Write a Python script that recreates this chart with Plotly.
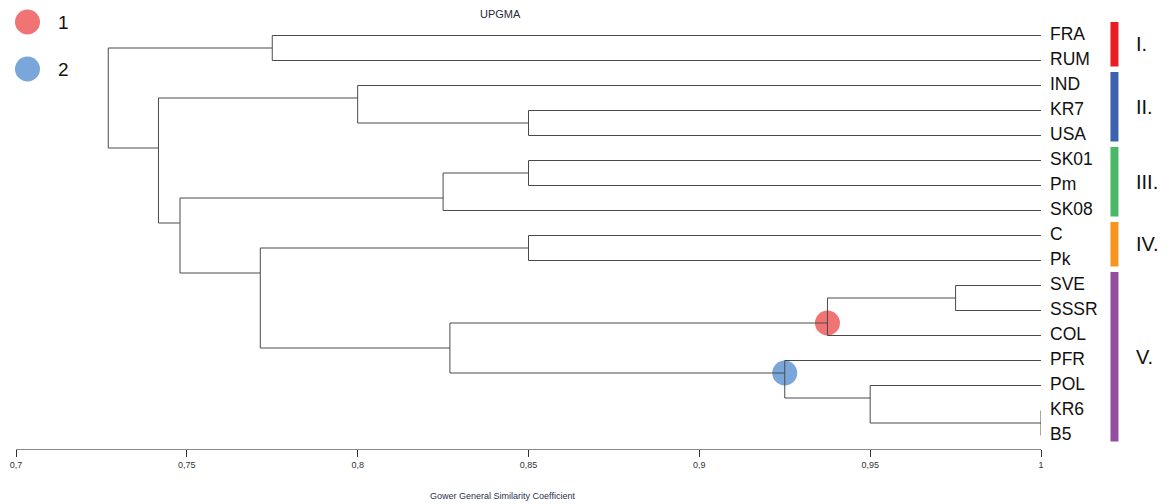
import plotly.graph_objects as go

# ---------------- data ----------------
leaves = ["FRA", "RUM", "IND", "KR7", "USA", "SK01", "Pm", "SK08", "C", "Pk",
          "SVE", "SSSR", "COL", "PFR", "POL", "KR6", "B5"]

# merges: (id, left child, right child, similarity)
merge_ids = ["m0", "m1", "m2", "m3", "m4", "m5", "m6", "m7",
             "m8", "m9", "m10", "m11", "m12", "m13", "m14", "m15"]
merge_left = ["FRA", "KR7", "IND", "SK01", "m3", "C", "SVE", "m6",
              "KR6", "POL", "PFR", "m7", "m5", "m4", "m2", "m0"]
merge_right = ["RUM", "USA", "m1", "Pm", "SK08", "Pk", "SSSR", "COL",
               "B5", "m8", "m9", "m10", "m11", "m12", "m13", "m14"]
merge_sim = [0.775, 0.85, 0.80, 0.85, 0.825, 0.85, 0.975, 0.9375,
             1.0, 0.95, 0.925, 0.827, 0.7715, 0.748, 0.7417, 0.727]

highlight_nodes = ["m7", "m10"]
highlight_names = ["1", "2"]
highlight_colors = ["#f07474", "#7ba6d9"]

group_names = ["I.", "II.", "III.", "IV.", "V."]
group_first = ["FRA", "IND", "SK01", "C", "SVE"]
group_last = ["RUM", "USA", "SK08", "Pk", "B5"]
group_colors = ["#ec1c24", "#3b62ae", "#4bb867", "#f6961f", "#934f9f"]

tick_vals = [0.7, 0.75, 0.8, 0.85, 0.9, 0.95, 1.0]
tick_text = ["0,7", "0,75", "0,8", "0,85", "0,9", "0,95", "1"]

title_text = "UPGMA"
axis_title = "Gower General Similarity Coefficient"

# ---------------- layout of the tree ----------------
info = {}
for i, name in enumerate(leaves):
    info[name] = dict(start=i, count=1, y=float(i), sim=1.0)

seg_x, seg_y = [], []
for mid, a, b, s in zip(merge_ids, merge_left, merge_right, merge_sim):
    A, B = info[a], info[b]
    y = A["start"] + A["count"] - 0.5
    info[mid] = dict(start=A["start"], count=A["count"] + B["count"], y=y, sim=s)
    # vertical
    seg_x += [s, s, None]
    seg_y += [A["y"], B["y"], None]
    # horizontals
    seg_x += [s, A["sim"], None]
    seg_y += [A["y"], A["y"], None]
    seg_x += [s, B["sim"], None]
    seg_y += [B["y"], B["y"], None]

FONT = "Liberation Sans, Arial, Helvetica, sans-serif"

fig = go.Figure()

# highlighted nodes (under the lines)
for node, nm, col in zip(highlight_nodes, highlight_names, highlight_colors):
    fig.add_trace(go.Scatter(
        x=[info[node]["sim"]], y=[info[node]["y"]], mode="markers",
        marker=dict(size=25, color=col, line=dict(width=0)),
        name=nm, showlegend=False, hoverinfo="skip", cliponaxis=False))

fig.add_trace(go.Scatter(
    x=seg_x, y=seg_y, mode="lines",
    line=dict(color="#4a4a4a", width=1),
    showlegend=False, hoverinfo="skip", cliponaxis=False))

# ---------------- geometry (pixels) ----------------
W, H = 1170, 504
L, R = 16, 1041.5          # plot area left/right in px
BOTTOM = 449               # plot area bottom in px
PW = R - L
TOP_IDX = -1.42
BOT_IDX = 16.54


def px_x(px):
    return (px - L) / PW


def px_y(py):
    return (BOTTOM - py) / BOTTOM


annotations = []
# leaf labels
for i, name in enumerate(leaves):
    annotations.append(dict(
        x=px_x(1048.5), xref="paper", y=i - 0.05, yref="y",
        text=name, showarrow=False, xanchor="left", yanchor="middle",
        font=dict(family=FONT, size=17.5, color="#111111")))

shapes = []
# group bars + labels
for gname, f, l, col in zip(group_names, group_first, group_last, group_colors):
    y0 = leaves.index(f) - 0.54
    y1 = leaves.index(l) + 0.24
    shapes.append(dict(type="rect", xref="paper", yref="y",
                       x0=px_x(1111), x1=px_x(1119), y0=y0, y1=y1,
                       fillcolor=col, line=dict(width=0)))
    annotations.append(dict(
        x=px_x(1135), xref="paper", y=(y0 + y1) / 2, yref="y",
        text=gname, showarrow=False, xanchor="left", yanchor="middle",
        font=dict(family=FONT, size=20, color="#111111")))

# legend (circles + labels)
legend_y_px = [22, 69]
for ypx, nm, col in zip(legend_y_px, highlight_names, highlight_colors):
    shapes.append(dict(type="circle", xref="paper", yref="paper",
                       xsizemode="pixel", ysizemode="pixel",
                       xanchor=px_x(27.5), yanchor=px_y(ypx),
                       x0=-12.5, x1=12.5, y0=-12.5, y1=12.5,
                       fillcolor=col, line=dict(width=0)))
    annotations.append(dict(
        x=px_x(56), xref="paper", y=px_y(ypx), yref="paper",
        text=nm, showarrow=False, xanchor="left", yanchor="middle",
        font=dict(family=FONT, size=19, color="#111111")))

# title & axis title
annotations.append(dict(
    x=px_x(501), xref="paper", y=px_y(13.5), yref="paper", text=title_text,
    showarrow=False, xanchor="center", yanchor="middle",
    font=dict(family=FONT, size=11, color="#2b2b3b")))
annotations.append(dict(
    x=px_x(502.5), xref="paper", y=px_y(496), yref="paper", text=axis_title,
    showarrow=False, xanchor="center", yanchor="middle",
    font=dict(family=FONT, size=9, color="#2b3050")))

fig.update_layout(
    width=W, height=H,
    margin=dict(l=L, r=W - R, t=0, b=H - BOTTOM, pad=0),
    paper_bgcolor="white", plot_bgcolor="white",
    showlegend=False,
    xaxis=dict(range=[0.7, 1.0], showgrid=False, zeroline=False,
               showline=True, linecolor="#8a8a8a", linewidth=1,
               ticks="outside", ticklen=7, tickwidth=1, tickcolor="#333333",
               tickvals=tick_vals, ticktext=tick_text,
               tickfont=dict(family=FONT, size=9, color="#333333"),
               fixedrange=True),
    yaxis=dict(range=[BOT_IDX, TOP_IDX], visible=False, fixedrange=True),
    shapes=shapes, annotations=annotations,
)

fig.write_html(
    "out.html",
    config={"displayModeBar": False},
    post_script="document.body.style.margin='0px';document.body.style.overflow='hidden';",
)
